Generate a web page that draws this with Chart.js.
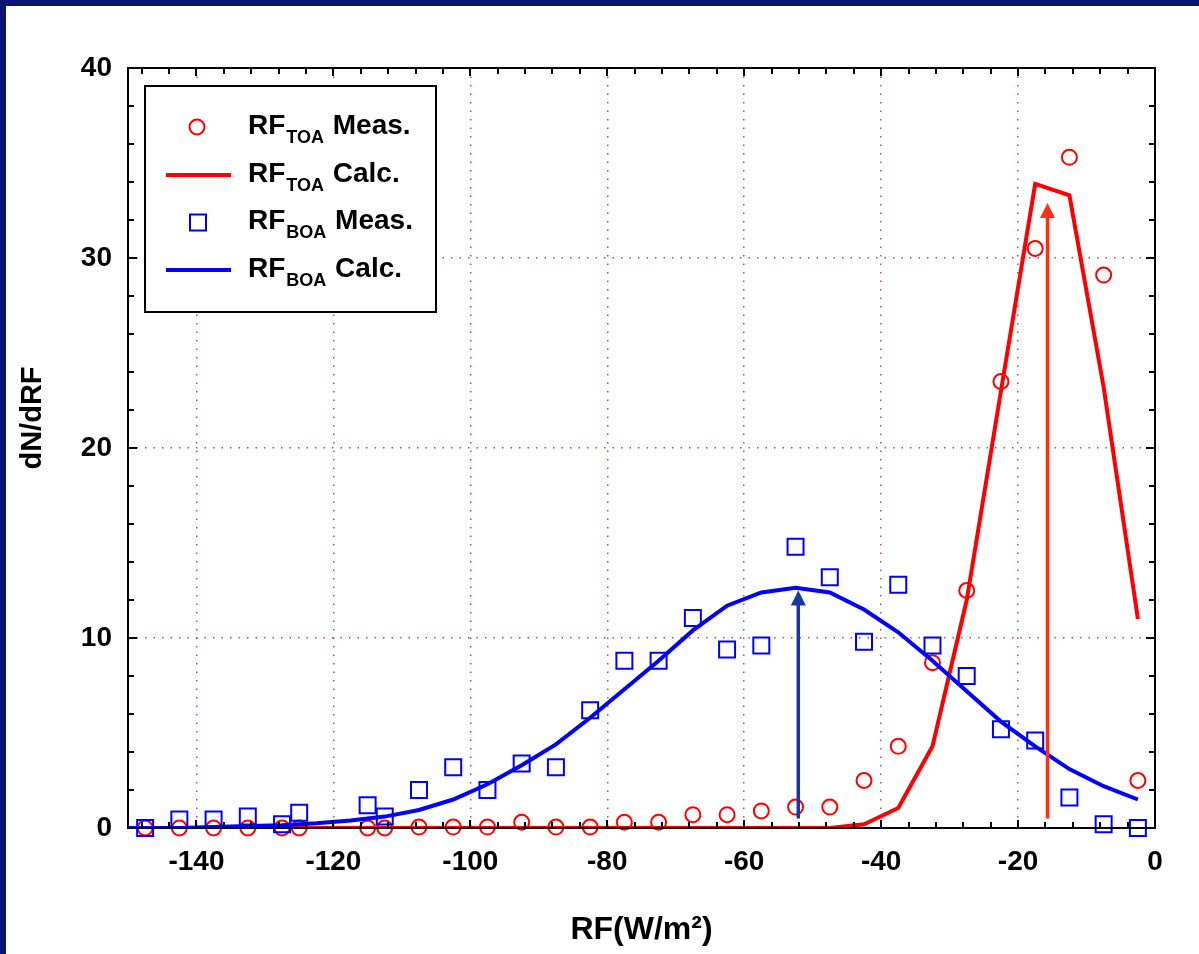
<!DOCTYPE html>
<html><head><meta charset="utf-8">
<script src="https://cdn.jsdelivr.net/npm/chart.js@4.4.0/dist/chart.umd.min.js"></script>
<style>
html,body{margin:0;padding:0;background:#fff;}
#wrap{position:relative;width:1199px;height:954px;overflow:hidden;background:#fff;}
#c{position:absolute;left:0;top:0;}
.bt{position:absolute;left:0;top:0;width:1199px;height:6px;background:#0b1673;}
.bl{position:absolute;left:0;top:0;width:6px;height:954px;background:#0b1673;}
</style></head><body>
<div id="wrap"><canvas id="c" width="1199" height="954"></canvas><div class="bt"></div><div class="bl"></div></div>
<script>
// ---- data ----
const measX = [-147.5,-142.5,-137.5,-132.5,-127.5,-125,-115,-112.5,-107.5,-102.5,-97.5,-92.5,-87.5,-82.5,-77.5,-72.5,-67.5,-62.5,-57.5,-52.5,-47.5,-42.5,-37.5,-32.5,-27.5,-22.5,-17.5,-12.5,-7.5,-2.5];
const toaMeas = [0,0,0,0,0,0,0,0,0.05,0.05,0.05,0.3,0.05,0.05,0.3,0.3,0.7,0.7,0.9,1.1,1.1,2.5,4.3,8.7,12.5,23.5,30.5,35.3,29.1,2.5];
const boaMeas = [0,0.45,0.45,0.6,0.2,0.8,1.2,0.6,2.0,3.2,2.0,3.4,3.2,6.2,8.8,8.8,11.05,9.4,9.6,14.8,13.2,9.8,12.8,9.6,8.0,5.2,4.6,1.6,0.2,0];
const calcX = [-152.5,-147.5,-142.5,-137.5,-132.5,-127.5,-122.5,-117.5,-112.5,-107.5,-102.5,-97.5,-92.5,-87.5,-82.5,-77.5,-72.5,-67.5,-62.5,-57.5,-52.5,-47.5,-42.5,-37.5,-32.5,-27.5,-22.5,-17.5,-12.5,-7.5,-2.5];
const toaCalc = [0,0,0,0,0,0,0,0,0,0,0,0,0,0,0,0,0,0,0,0,0,0,0.2,1.05,4.3,12.0,23.0,33.9,33.3,23.2,11.0];
const boaCalc = [0,0,0,0.05,0.1,0.15,0.25,0.4,0.6,0.95,1.5,2.3,3.3,4.4,5.8,7.3,8.8,10.4,11.7,12.4,12.65,12.4,11.5,10.3,8.8,7.2,5.6,4.3,3.1,2.2,1.5];
const arrowX = [-52.1, -15.7];
const arrowFrom = [0.5, 0.5];
const arrowTo = [12.5, 32.9];
const xTickLabels = [-140,-120,-100,-80,-60,-40,-20,0];
const yTickLabels = [0,10,20,30,40];
const xTitle = 'RF(W/m²)';
const yTitle = 'dN/dRF';
const legendMain = ['RF','RF','RF','RF'];
const legendSub = ['TOA','TOA','BOA','BOA'];
const legendRest = [' Meas.',' Calc.',' Meas.',' Calc.'];

const FONT = '"Liberation Sans", Arial, Helvetica, sans-serif';
const RED = '#ff0000', BLUE = '#0000ff';
const pts = (xs, ys) => xs.map((v, i) => ({x: v, y: ys[i]}));

const deco = {
  id: 'deco',
  afterDatasetsDraw(chart) {
    const {ctx, chartArea: a, scales: {x, y}} = chart;
    ctx.save();
    // arrows
    const arrowColors = ['#1836a8', '#ff3010'];
    arrowX.forEach((v, i) => {
      const px = x.getPixelForValue(v);
      const y0 = y.getPixelForValue(arrowFrom[i]);
      const y1 = y.getPixelForValue(arrowTo[i]);
      ctx.strokeStyle = arrowColors[i]; ctx.fillStyle = arrowColors[i];
      ctx.lineWidth = 3.5;
      ctx.beginPath(); ctx.moveTo(px, y0); ctx.lineTo(px, y1 + 12); ctx.stroke();
      ctx.beginPath(); ctx.moveTo(px, y1); ctx.lineTo(px - 7.5, y1 + 15); ctx.lineTo(px + 7.5, y1 + 15); ctx.closePath(); ctx.fill();
    });
    // frame
    ctx.strokeStyle = '#000'; ctx.lineWidth = 2;
    ctx.strokeRect(a.left, a.top, a.right - a.left, a.bottom - a.top);
    // inward ticks
    ctx.lineWidth = 2;
    ctx.beginPath();
    for (let v = -148; v < 0; v += 4) {
      const px = Math.round(x.getPixelForValue(v));
      const len = (v % 20 === 0) ? 8 : 6;
      ctx.moveTo(px, a.bottom); ctx.lineTo(px, a.bottom - len);
      ctx.moveTo(px, a.top); ctx.lineTo(px, a.top + len);
    }
    for (let v = 2; v < 40; v += 2) {
      const py = Math.round(y.getPixelForValue(v));
      const len = (v % 10 === 0) ? 9 : 6;
      ctx.moveTo(a.left, py); ctx.lineTo(a.left + len, py);
      ctx.moveTo(a.right, py); ctx.lineTo(a.right - len, py);
    }
    ctx.stroke();
    ctx.restore();
  },
  afterDraw(chart) {
    const {ctx} = chart;
    ctx.save();
    // y-axis title
    ctx.translate(33, 418);
    ctx.rotate(-Math.PI / 2);
    ctx.fillStyle = '#000'; ctx.textAlign = 'center'; ctx.textBaseline = 'middle';
    ctx.font = 'bold 29px ' + FONT;
    ctx.fillText(yTitle, 0, 0);
    ctx.restore();
    ctx.save();
    // legend box
    ctx.fillStyle = '#fff';
    ctx.fillRect(145, 86, 291, 226);
    ctx.strokeStyle = '#000'; ctx.lineWidth = 2;
    ctx.strokeRect(145, 86, 291, 226);
    const bases = [134, 181.5, 229, 276.5];
    const kinds = ['circle', 'line', 'rect', 'line'];
    const cols = [RED, RED, BLUE, BLUE];
    bases.forEach((b, i) => {
      ctx.strokeStyle = cols[i];
      if (kinds[i] === 'circle') {
        ctx.lineWidth = 2; ctx.beginPath(); ctx.arc(197, b - 7, 7.5, 0, Math.PI * 2); ctx.stroke();
      } else if (kinds[i] === 'rect') {
        ctx.lineWidth = 2; ctx.strokeRect(190, b - 14.5, 16, 16);
      } else {
        ctx.lineWidth = 4; ctx.beginPath(); ctx.moveTo(166, b - 6.5); ctx.lineTo(231, b - 6.5); ctx.stroke();
      }
      ctx.fillStyle = '#000'; ctx.textBaseline = 'alphabetic'; ctx.textAlign = 'left';
      let tx = 248;
      ctx.font = 'bold 28px ' + FONT; ctx.fillText(legendMain[i], tx, b);
      tx += ctx.measureText(legendMain[i]).width + 1;
      ctx.font = 'bold 18px ' + FONT; ctx.fillText(legendSub[i], tx, b + 9);
      tx += ctx.measureText(legendSub[i]).width + 1;
      ctx.font = 'bold 28px ' + FONT; ctx.fillText(legendRest[i], tx, b);
    });
    ctx.restore();
  }
};

new Chart(document.getElementById('c'), {
  type: 'scatter',
  data: {
    datasets: [
      {label: 'RF_BOA Meas.', data: pts(measX, boaMeas), showLine: false, pointStyle: 'rect', pointRadius: 11.3, pointBorderWidth: 2, borderColor: BLUE, pointBorderColor: BLUE, pointBackgroundColor: 'rgba(0,0,0,0)', backgroundColor: 'rgba(0,0,0,0)', clip: false, order: 1},
      {label: 'RF_BOA Calc.', data: pts(calcX, boaCalc), showLine: true, pointRadius: 0, borderColor: BLUE, borderWidth: 4, tension: 0, order: 2},
      {label: 'RF_TOA Meas.', data: pts(measX, toaMeas), showLine: false, pointStyle: 'circle', pointRadius: 7.5, pointBorderWidth: 2, borderColor: RED, pointBorderColor: RED, pointBackgroundColor: 'rgba(0,0,0,0)', backgroundColor: 'rgba(0,0,0,0)', clip: false, order: 3},
      {label: 'RF_TOA Calc.', data: pts(calcX, toaCalc), showLine: true, pointRadius: 0, borderColor: RED, borderWidth: 4, tension: 0, order: 4}
    ]
  },
  options: {
    responsive: false, animation: false, devicePixelRatio: 1,
    layout: {padding: {left: 0, top: 68, right: 44, bottom: 0}},
    plugins: {legend: {display: false}, tooltip: {enabled: false}},
    elements: {point: {hoverRadius: 0}},
    scales: {
      x: {
        type: 'linear', min: -150, max: 0,
        afterBuildTicks: s => { s.ticks = xTickLabels.map(v => ({value: v})); },
        afterFit: s => { s.height = 126; },
        grid: {color: 'rgba(160,40,40,0.8)', lineWidth: 1.5, drawTicks: false},
        border: {display: false, dash: [1.5, 7]},
        ticks: {font: {family: FONT, size: 28, weight: 'bold'}, color: '#000', padding: 17, maxRotation: 0, autoSkip: false},
        title: {display: true, text: xTitle, font: {family: FONT, size: 32, weight: 'bold'}, color: '#000', padding: {top: 0, bottom: 5}}
      },
      y: {
        type: 'linear', min: 0, max: 40,
        afterBuildTicks: s => { s.ticks = yTickLabels.map(v => ({value: v})); },
        afterFit: s => { s.width = 128; },
        grid: {color: 'rgba(160,40,40,0.8)', lineWidth: 1.5, drawTicks: false},
        border: {display: false, dash: [1.5, 7]},
        ticks: {font: {family: FONT, size: 28, weight: 'bold'}, color: '#000', padding: 16},
        title: {display: false}
      }
    }
  },
  plugins: [deco]
});
</script>
</body></html>
